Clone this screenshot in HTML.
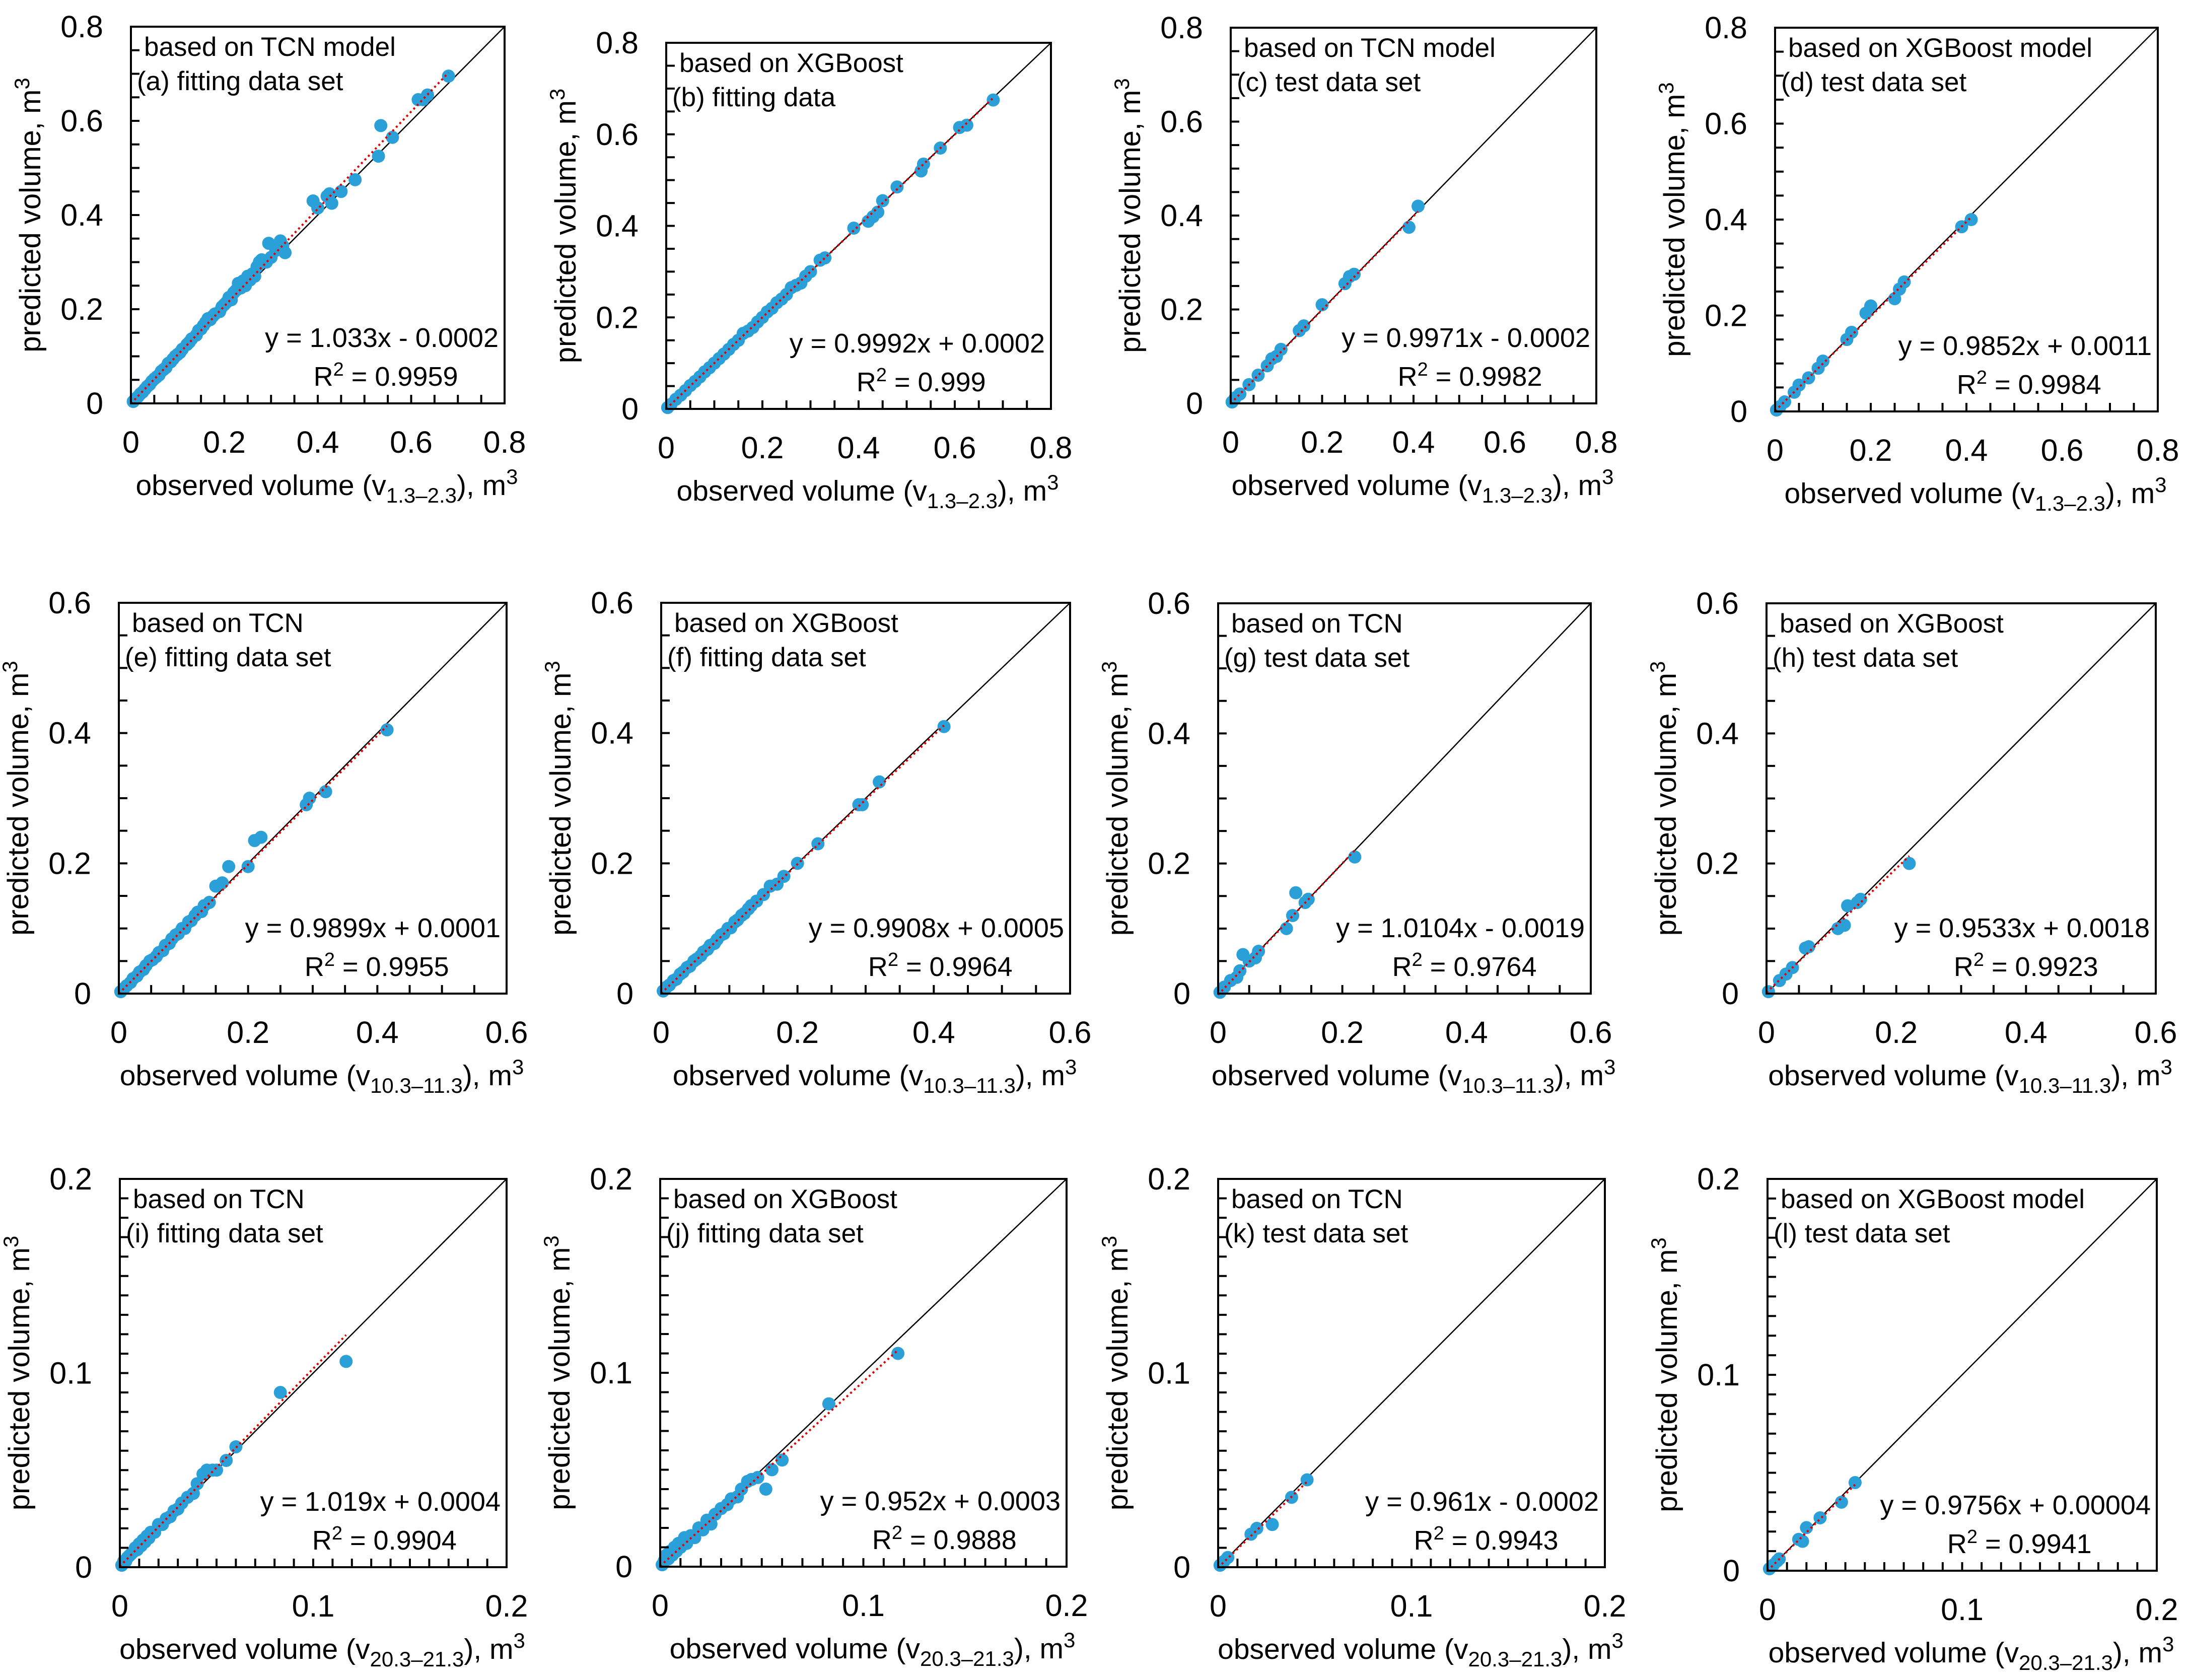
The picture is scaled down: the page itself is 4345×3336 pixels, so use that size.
<!DOCTYPE html>
<html><head><meta charset="utf-8"><style>
html,body{margin:0;padding:0;background:#fff;}
svg{display:block;font-family:"Liberation Sans",Arial,sans-serif;}
</style></head><body>
<svg id="fig" width="4345" height="3336" viewBox="0 0 4345 3336" xmlns="http://www.w3.org/2000/svg"></svg>
<script>
// ---- data ----
const pts_a = [[0.005,0.004],[0.01,0.01],[0.015,0.014],[0.02,0.02],[0.025,0.024],[0.03,0.03],[0.035,0.036],[0.04,0.04],[0.045,0.047],[0.05,0.052],[0.055,0.056],[0.06,0.06],[0.065,0.068],[0.07,0.072],[0.075,0.076],[0.08,0.085],[0.085,0.088],[0.09,0.094],[0.095,0.1],[0.1,0.104],[0.105,0.108],[0.11,0.115],[0.12,0.125],[0.125,0.13],[0.13,0.137],[0.14,0.145],[0.145,0.155],[0.15,0.158],[0.155,0.165],[0.16,0.172],[0.165,0.18],[0.17,0.178],[0.175,0.185],[0.18,0.19],[0.19,0.195],[0.195,0.205],[0.2,0.21],[0.205,0.215],[0.21,0.225],[0.215,0.22],[0.22,0.235],[0.225,0.24],[0.23,0.255],[0.235,0.245],[0.24,0.26],[0.245,0.25],[0.25,0.27],[0.255,0.262],[0.26,0.275],[0.265,0.27],[0.27,0.29],[0.275,0.3],[0.28,0.305],[0.29,0.30],[0.295,0.34],[0.3,0.31],[0.31,0.325],[0.32,0.345],[0.325,0.335],[0.33,0.32],[0.39,0.43],[0.40,0.415],[0.42,0.44],[0.425,0.445],[0.43,0.425],[0.45,0.45],[0.48,0.475],[0.53,0.525],[0.535,0.59],[0.56,0.565],[0.615,0.645],[0.625,0.645],[0.635,0.655],[0.68,0.695]];
const pts_b = [[0.003,0.003],[0.01,0.01],[0.02,0.021],[0.03,0.03],[0.04,0.04],[0.05,0.051],[0.06,0.06],[0.07,0.07],[0.08,0.081],[0.09,0.09],[0.1,0.1],[0.11,0.11],[0.12,0.12],[0.13,0.13],[0.14,0.141],[0.15,0.15],[0.16,0.165],[0.17,0.17],[0.18,0.178],[0.19,0.19],[0.2,0.2],[0.21,0.212],[0.22,0.22],[0.23,0.232],[0.24,0.24],[0.25,0.25],[0.26,0.265],[0.27,0.27],[0.28,0.275],[0.29,0.29],[0.3,0.3],[0.32,0.325],[0.33,0.33],[0.39,0.395],[0.42,0.41],[0.43,0.42],[0.44,0.43],[0.45,0.455],[0.48,0.485],[0.53,0.52],[0.535,0.535],[0.57,0.57],[0.61,0.615],[0.625,0.62],[0.68,0.675]];
const pts_c = [[0.003,0.003],[0.01,0.012],[0.02,0.02],[0.04,0.04],[0.06,0.06],[0.08,0.08],[0.09,0.095],[0.1,0.1],[0.11,0.115],[0.15,0.155],[0.16,0.165],[0.2,0.21],[0.25,0.255],[0.26,0.27],[0.27,0.275],[0.39,0.375],[0.41,0.42]];
const pts_d = [[0.003,0.003],[0.01,0.01],[0.02,0.02],[0.04,0.04],[0.05,0.055],[0.07,0.07],[0.09,0.09],[0.1,0.105],[0.15,0.15],[0.16,0.165],[0.19,0.205],[0.2,0.22],[0.25,0.235],[0.26,0.255],[0.27,0.27],[0.39,0.385],[0.41,0.40]];
const pts_e = [[0.003,0.003],[0.008,0.008],[0.012,0.012],[0.018,0.017],[0.022,0.023],[0.028,0.027],[0.032,0.033],[0.038,0.037],[0.042,0.043],[0.048,0.05],[0.052,0.052],[0.058,0.057],[0.062,0.063],[0.068,0.066],[0.072,0.074],[0.078,0.077],[0.082,0.084],[0.088,0.09],[0.092,0.092],[0.098,0.1],[0.102,0.1],[0.108,0.11],[0.112,0.112],[0.118,0.12],[0.122,0.125],[0.128,0.126],[0.132,0.135],[0.14,0.14],[0.15,0.165],[0.16,0.17],[0.17,0.195],[0.2,0.195],[0.21,0.235],[0.22,0.24],[0.29,0.29],[0.295,0.30],[0.32,0.31],[0.415,0.405]];
const pts_f = [[0.003,0.004],[0.008,0.01],[0.012,0.013],[0.018,0.02],[0.022,0.022],[0.028,0.03],[0.032,0.033],[0.038,0.04],[0.042,0.042],[0.048,0.05],[0.052,0.053],[0.058,0.058],[0.062,0.064],[0.068,0.068],[0.072,0.074],[0.078,0.077],[0.082,0.083],[0.088,0.09],[0.092,0.092],[0.098,0.1],[0.102,0.101],[0.108,0.11],[0.112,0.113],[0.118,0.12],[0.122,0.123],[0.128,0.13],[0.132,0.135],[0.14,0.142],[0.15,0.152],[0.16,0.165],[0.17,0.168],[0.18,0.18],[0.2,0.2],[0.23,0.23],[0.29,0.29],[0.295,0.29],[0.32,0.325],[0.415,0.41]];
const pts_g = [[0.003,0.002],[0.01,0.01],[0.02,0.02],[0.03,0.025],[0.035,0.035],[0.04,0.06],[0.05,0.05],[0.06,0.055],[0.065,0.065],[0.11,0.1],[0.12,0.12],[0.125,0.155],[0.14,0.14],[0.145,0.145],[0.22,0.21]];
const pts_h = [[0.003,0.003],[0.02,0.02],[0.03,0.03],[0.04,0.04],[0.06,0.07],[0.065,0.072],[0.11,0.1],[0.12,0.105],[0.125,0.135],[0.14,0.14],[0.145,0.145],[0.22,0.2]];
const pts_i = [[0.001,0.001],[0.002,0.003],[0.003,0.003],[0.004,0.005],[0.005,0.006],[0.006,0.007],[0.007,0.008],[0.008,0.01],[0.009,0.009],[0.01,0.012],[0.011,0.011],[0.012,0.014],[0.013,0.013],[0.014,0.016],[0.015,0.015],[0.016,0.018],[0.018,0.018],[0.02,0.022],[0.022,0.022],[0.024,0.025],[0.026,0.026],[0.028,0.029],[0.03,0.03],[0.032,0.033],[0.035,0.036],[0.038,0.038],[0.04,0.043],[0.043,0.048],[0.045,0.05],[0.048,0.05],[0.05,0.05],[0.055,0.055],[0.06,0.062],[0.083,0.09],[0.117,0.106]];
const pts_j = [[0.001,0.001],[0.002,0.003],[0.003,0.006],[0.004,0.004],[0.005,0.008],[0.006,0.006],[0.007,0.01],[0.008,0.008],[0.009,0.012],[0.01,0.01],[0.012,0.015],[0.013,0.012],[0.015,0.016],[0.017,0.015],[0.019,0.02],[0.021,0.019],[0.023,0.024],[0.025,0.022],[0.027,0.027],[0.03,0.03],[0.033,0.032],[0.035,0.035],[0.038,0.036],[0.04,0.04],[0.043,0.044],[0.045,0.045],[0.048,0.046],[0.052,0.04],[0.055,0.05],[0.06,0.055],[0.083,0.084],[0.117,0.11]];
const pts_k = [[0.001,0.001],[0.003,0.003],[0.005,0.005],[0.017,0.017],[0.02,0.02],[0.028,0.022],[0.038,0.036],[0.046,0.045]];
const pts_l = [[0.001,0.001],[0.003,0.003],[0.005,0.005],[0.006,0.006],[0.016,0.016],[0.018,0.015],[0.02,0.022],[0.027,0.027],[0.038,0.035],[0.045,0.045]];
const slopes = [1.033,0.9992,0.9971,0.9852,0.9899,0.9908,1.0104,0.9533,1.019,0.952,0.961,0.9756];
const intercepts = [-0.0002,0.0002,-0.0002,0.0011,0.0001,0.0005,-0.0019,0.0018,0.0004,0.0003,-0.0002,0.00004];
const eqLabels = ["y = 1.033x - 0.0002","y = 0.9992x + 0.0002","y = 0.9971x - 0.0002","y = 0.9852x + 0.0011","y = 0.9899x + 0.0001","y = 0.9908x + 0.0005","y = 1.0104x - 0.0019","y = 0.9533x + 0.0018","y = 1.019x + 0.0004","y = 0.952x + 0.0003","y = 0.961x - 0.0002","y = 0.9756x + 0.00004"];
const r2Labels = ["0.9959","0.999","0.9982","0.9984","0.9955","0.9964","0.9764","0.9923","0.9904","0.9888","0.9943","0.9941"];
const modelLabels = ["based on TCN model","based on XGBoost","based on TCN model","based on XGBoost model","based on TCN","based on XGBoost","based on TCN","based on XGBoost","based on TCN","based on XGBoost","based on TCN","based on XGBoost model"];
const setLabels = ["(a) fitting data set","(b) fitting data","(c) test data set","(d) test data set","(e) fitting data set","(f) fitting data set","(g) test data set","(h) test data set","(i) fitting data set","(j) fitting data set","(k) test data set","(l) test data set"];
const tick08 = ["0","0.2","0.4","0.6","0.8"];
const tick06 = ["0","0.2","0.4","0.6"];
const tick02 = ["0","0.1","0.2"];
const subs = ["1.3–2.3","10.3–11.3","20.3–21.3"];
const allPts = [pts_a,pts_b,pts_c,pts_d,pts_e,pts_f,pts_g,pts_h,pts_i,pts_j,pts_k,pts_l];

// ---- layout ----
const boxes = [[260,53,1002,801],[1323,85,2087,812],[2444,55,3170,801],[3525,55,4285,817],
[236,1197,1006,1973],[1313,1197,2125,1973],[2419,1198,3159,1973],[3508,1198,4281,1973],
[238,2341,1006,3112],[1311,2341,2118,3111],[2419,2341,3187,3112],[3510,2341,4283,3119]];
const rowMax=[0.8,0.6,0.2], rowMinor=[0.05,0.05,0.01], rowTicks=[tick08,tick06,tick02];
const NS="http://www.w3.org/2000/svg";
const svg=document.getElementById('fig');
function mk(tag,attrs,parent){const e=document.createElementNS(NS,tag);for(const k in attrs)e.setAttribute(k,attrs[k]);(parent||svg).appendChild(e);return e;}

boxes.forEach((b,i)=>{
  const row=Math.floor(i/4);
  const [L,T,R,B]=b, max=rowMax[row];
  const g=mk('g',{});
  
  
  const sx=v=>L+(R-L)*v/max, sy=v=>B-(B-T)*v/max;
  const d=mk('line',{x1:sx(0),y1:sy(0),x2:sx(max),y2:sy(max),stroke:'#000','stroke-width':2.5},g);
  
  
  const pts=allPts[i];
  let xmax=0;
  pts.forEach(p=>{xmax=Math.max(xmax,p[0]);
    const c=mk('circle',{cx:sx(p[0]),cy:sy(p[1]),r:13,fill:'#2a9fd8'},g);
    
    
  });
  const tl=mk('line',{x1:sx(0),y1:sy(intercepts[i]),x2:sx(xmax),y2:sy(slopes[i]*xmax+intercepts[i]),stroke:'#e00000','stroke-width':4,'stroke-dasharray':'4 6'},g);
  
  
  const r=mk('rect',{x:L,y:T,width:R-L,height:B-T,fill:'none',stroke:'#000','stroke-width':4},g);
  
  
  const minor=rowMinor[row];
  const n=Math.round(max/minor);
  for(let k=1;k<n;k++){
    const v=k*minor;
    mk('line',{x1:L,y1:sy(v),x2:L+17,y2:sy(v),stroke:'#000','stroke-width':4},g);
    mk('line',{x1:sx(v),y1:B,x2:sx(v),y2:B-17,stroke:'#000','stroke-width':4},g);
  }
  rowTicks[row].forEach(lbl=>{
    const v=parseFloat(lbl);
    const ty=mk('text',{x:L-55,y:sy(v)+21,'font-size':61,'text-anchor':'end'},g);ty.textContent=lbl;
    
    
    const tx=mk('text',{x:sx(v),y:B+98,'font-size':61,'text-anchor':'middle'},g);tx.textContent=lbl;
    
    
  });
  const xt=mk('text',{x:(L+R)/2+18,y:B+182,'font-size':57,'text-anchor':'middle'},g);
  
  
  xt.innerHTML='observed volume (v<tspan font-size="42" dy="15">'+subs[row]+'</tspan><tspan dy="-15">), m</tspan><tspan font-size="42" dy="-22">3</tspan>';
  const cy=(T+B)/2, cx=L-180;
  const yt=mk('text',{x:cx,y:cy,'font-size':58,'text-anchor':'middle',transform:'rotate(-90 '+cx+' '+cy+')'},g);
  
  
  yt.innerHTML='predicted volume, m<tspan font-size="42" dy="-22">3</tspan>';
  const a1=mk('text',{x:L+26,y:T+58,'font-size':53},g);a1.textContent=modelLabels[i];
  
  
  const a2=mk('text',{x:L+12,y:T+126,'font-size':53},g);a2.textContent=setLabels[i];
  
  
  const eq=mk('text',{x:R-12,y:B-112,'font-size':54,'text-anchor':'end'},g);eq.textContent=eqLabels[i];
  
  
  const w=eq.getComputedTextLength();
  const r2=mk('text',{x:R-12-w/2+8,y:B-35,'font-size':54,'text-anchor':'middle'},g);
  r2.innerHTML='R<tspan font-size="38" dy="-20">2</tspan><tspan dy="20"> = '+r2Labels[i]+'</tspan>';
  
  
});
</script>
</body></html>
